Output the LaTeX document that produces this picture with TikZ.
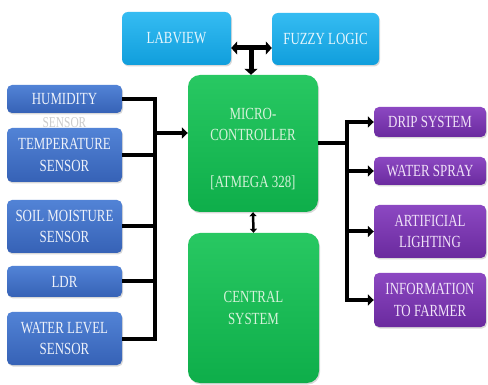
\documentclass[tikz,border=0pt]{standalone}
\usepackage{fontspec}
\setmainfont{Liberation Serif}[FakeStretch=0.76]
\usetikzlibrary{arrows.meta,shadows}
\definecolor{bluetop}{HTML}{5283D6}
\definecolor{bluebot}{HTML}{3662B6}
\definecolor{cyantop}{HTML}{35BCF2}
\definecolor{cyanbot}{HTML}{109EDC}
\definecolor{greentop}{HTML}{28C862}
\definecolor{greenbot}{HTML}{0EAE4A}
\definecolor{purptop}{HTML}{8C48C2}
\definecolor{purpbot}{HTML}{6A2A9E}
\definecolor{bluetxt}{HTML}{EEF2FA}
\definecolor{cyantxt}{HTML}{E6F6FD}
\definecolor{greentxt}{HTML}{D6F2DA}
\definecolor{purptxt}{HTML}{F0E2F8}
\tikzset{
  box/.style={rounded corners=6pt, align=center, inner sep=1pt,
    font=\fontsize{17}{21.5}\selectfont,
    drop shadow={opacity=0.3, shadow xshift=1pt, shadow yshift=-1.5pt}},
  bluebox/.style={box, top color=bluetop, bottom color=bluebot, text=bluetxt, rounded corners=5pt},
  cyanbox/.style={box, top color=cyantop, bottom color=cyanbot, text=cyantxt},
  greenbox/.style={box, top color=greentop, bottom color=greenbot, text=greentxt, rounded corners=12pt},
  purpbox/.style={box, top color=purptop, bottom color=purpbot, text=purptxt, rounded corners=5pt},
  greentext/.style={align=center, text=greentxt, font=\fontsize{17}{21}\selectfont},
  bus/.style={line width=4pt, black},
  busarrow/.style={line width=4pt, black, -{Triangle[length=6pt,width=11pt]}},
  toparrow/.style={line width=5pt, black, {Triangle[length=6pt,width=13pt]}-{Triangle[length=6pt,width=13pt]}},
  downarrow/.style={line width=5pt, black, -{Triangle[length=6pt,width=13pt]}},
  smallarrow/.style={line width=2.5pt, black, {Triangle[length=4pt,width=7pt]}-{Triangle[length=4pt,width=7pt]}},
  ghost/.style={text=gray!40, font=\fontsize{15}{18}\selectfont}
}
\begin{document}
\begin{tikzpicture}[x=1pt,y=-1pt]
\useasboundingbox[fill=white] (0,0) rectangle (488,385);
% top boxes
\node[cyanbox, minimum width=109pt, minimum height=53pt] (lab) at (176.5,38.5) {LABVIEW};
\node[cyanbox, minimum width=107pt, minimum height=52pt] (fuz) at (325.5,39) {FUZZY LOGIC};
% green boxes
\node[greenbox, minimum width=130pt, minimum height=137pt] (mc) at (253,143.5) {};
\node[greentext] (mct) at (253,149) {MICRO-\\CONTROLLER\\[26pt]{[ATMEGA 328]}};
\node[greenbox, minimum width=131pt, minimum height=150pt] (cs) at (253.5,308) {CENTRAL\\SYSTEM};
% left sensors
\node[bluebox, minimum width=115pt, minimum height=28pt] (hum) at (64.5,99) {HUMIDITY};
\node[ghost] (ghs) at (64.5,123) {SENSOR};
\node[bluebox, minimum width=115pt, minimum height=54pt] (tem) at (64.5,155) {TEMPERATURE\\SENSOR};
\node[bluebox, minimum width=115pt, minimum height=53pt] (soil) at (64.5,226.5) {SOIL MOISTURE\\SENSOR};
\node[bluebox, minimum width=115pt, minimum height=31pt] (ldr) at (64.5,281.5) {LDR};
\node[bluebox, minimum width=115pt, minimum height=53pt] (wat) at (64.5,338.5) {WATER LEVEL\\SENSOR};
% right outputs
\node[purpbox, minimum width=112pt, minimum height=30pt] (drip) at (430,122) {DRIP SYSTEM};
\node[purpbox, minimum width=112pt, minimum height=28pt] (spray) at (430,171) {WATER SPRAY};
\node[purpbox, minimum width=112pt, minimum height=53pt] (art) at (430,231.5) {ARTIFICIAL\\LIGHTING};
\node[purpbox, minimum width=112pt, minimum height=54pt] (info) at (430,300) {INFORMATION\\TO FARMER};
% coordinates
\coordinate (busL) at (155,200);
\coordinate (inL) at (155,133);
\coordinate (busR) at (347,200);
\coordinate (tj) at (251,48);
% left bus
\draw[bus] (hum.east) -| (busL) |- (wat.east);
\draw[bus] (tem.east) -- (tem.east -| busL);
\draw[bus] (soil.east) -- (soil.east -| busL);
\draw[bus] (ldr.east) -- (ldr.east -| busL);
\draw[busarrow] (inL) -- (inL -| mc.west);
% right bus
\draw[bus] (mc.east) -- (mc.east -| busR);
\draw[bus, line cap=rect] (busR |- drip.west) -- (busR |- info.west);
\draw[busarrow] (busR |- drip.west) -- (drip.west);
\draw[busarrow] (busR |- spray.west) -- (spray.west);
\draw[busarrow] (busR |- art.west) -- (art.west);
\draw[busarrow] (busR |- info.west) -- (info.west);
% top arrows
\draw[toparrow] (tj -| lab.east) -- (tj -| fuz.west);
\draw[downarrow] (tj) -- (tj |- mc.north);
% micro <-> central
\draw[smallarrow] (mc.south) -- (cs.north);
\end{tikzpicture}
\end{document}
